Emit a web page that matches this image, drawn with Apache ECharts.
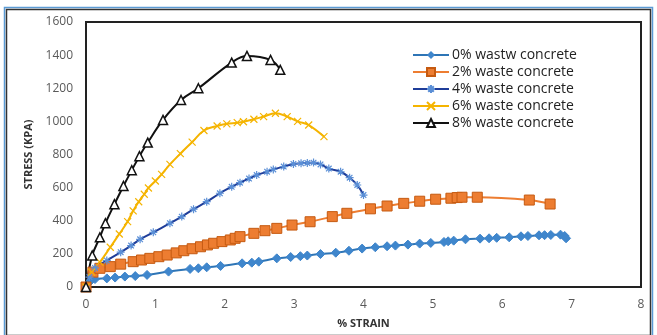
<!DOCTYPE html>
<html>
<head>
<meta charset="utf-8">
<script src="https://cdn.jsdelivr.net/npm/echarts@6/dist/echarts.min.js"></script>
<style>
  html, body { margin: 0; padding: 0; background: #fff; }
  #container { width: 657px; height: 335px; }
</style>
</head>
<body>
<div id="container"></div>
<script>
// stress / strain curves [strain %, stress kPa]
var names = ['0% wastw concrete', '2% waste concrete', '4% waste concrete', '6% waste concrete', '8% waste concrete'];

var waste0 = [[0,0],[0.05,30],[0.13,48],[0.3,52],[0.42,57],[0.56,63],[0.71,66],[0.88,73],[1.19,93],[1.5,109],[1.62,113],
  [1.74,119],[1.94,127],[2.25,143],[2.39,147],[2.49,153],[2.75,173],[2.95,181],[3.09,186],[3.19,190],[3.38,199],[3.6,207],
  [3.79,219],[3.98,232],[4.17,240],[4.34,246],[4.46,250],[4.64,256],[4.81,262],[4.97,266],[5.16,272],[5.22,276],[5.3,280],
  [5.47,288],[5.68,292],[5.81,294],[5.92,297],[6.1,300],[6.27,306],[6.37,308],[6.53,312],[6.61,313],[6.7,314],[6.84,316],
  [6.9,308],[6.92,294]];

var waste2 = [[0,0],[0.1,90],[0.2,113],[0.35,123],[0.5,138],[0.68,153],[0.8,163],[0.92,173],[1.05,183],[1.17,193],[1.3,206],
  [1.41,219],[1.53,231],[1.65,243],[1.75,254],[1.84,264],[1.96,274],[2.08,284],[2.15,294],[2.22,304],[2.42,324],[2.58,340],
  [2.75,354],[2.97,374],[3.23,394],[3.55,425],[3.76,445],[4.1,472],[4.34,489],[4.58,505],[4.81,518],[5.04,530],[5.26,536],
  [5.35,540],[5.42,542],[5.64,542],[6.39,525],[6.69,501]];

var waste4 = [[0,0],[0.05,60],[0.13,115],[0.3,160],[0.5,210],[0.65,250],[0.78,288],[0.97,330],[1.21,385],[1.38,425],[1.55,470],
  [1.74,515],[1.93,566],[2.1,605],[2.22,630],[2.35,655],[2.46,676],[2.61,696],[2.7,710],[2.85,727],[2.99,743],[3.1,747],
  [3.19,749],[3.28,751],[3.38,740],[3.5,715],[3.67,696],[3.8,660],[3.91,616],[4.0,555]];

var waste6 = [[0,0],[0.08,90],[0.2,150],[0.35,240],[0.48,320],[0.6,395],[0.68,460],[0.76,515],[0.84,560],[0.9,598],[1.0,640],
  [1.09,680],[1.21,740],[1.36,805],[1.53,875],[1.7,945],[1.89,972],[2.03,985],[2.18,992],[2.27,998],[2.42,1013],[2.56,1029],
  [2.73,1049],[2.9,1029],[3.05,1000],[3.21,978],[3.43,908]];

var waste8 = [[0,0],[0.09,190],[0.2,300],[0.28,385],[0.41,500],[0.54,610],[0.66,705],[0.77,790],[0.89,872],[1.11,1009],
  [1.37,1129],[1.62,1200],[2.1,1355],[2.32,1395],[2.66,1371],[2.8,1311]];

var xTicks = [0, 1, 2, 3, 4, 5, 6, 7, 8];
var yTicks = [0, 200, 400, 600, 800, 1000, 1200, 1400, 1600];

var starPath = 'path://M5,0L5,10M0,5L10,5M1.5,1.5L8.5,8.5M8.5,1.5L1.5,8.5';
var crossPath = 'path://M0,0L10,10M10,0L0,10';

function mkSeries(name, data, color, symbol, size, itemStyle) {
  return {
    name: name,
    type: 'line',
    data: data,
    smooth: 0.4,
    symbol: symbol,
    symbolSize: size,
    showAllSymbol: true,
    lineStyle: { color: color, width: 2 },
    itemStyle: itemStyle,
    emphasis: { disabled: true }
  };
}

var dom = document.getElementById('container');
var myChart = echarts.init(dom);

var option = {
  backgroundColor: '#fff',
  animation: false,
  textStyle: { fontFamily: 'Open Sans' },
  graphic: [
    { type: 'rect', shape: { x: 4.5, y: 7.5, width: 648, height: 330 }, style: { fill: 'none', stroke: '#5b9bd5', lineWidth: 1.5 } },
    { type: 'rect', shape: { x: 6.5, y: 9.5, width: 644, height: 326 }, style: { fill: 'none', stroke: '#333', lineWidth: 1.5 } }
  ],
  legend: {
    data: names,
    orient: 'vertical',
    left: 407,
    top: 43,
    itemGap: 3,
    itemWidth: 36,
    itemHeight: 10,
    textStyle: { fontSize: 14, color: '#222', fontFamily: 'Open Sans', padding: [0, 0, 0, -2] }
  },
  grid: {
    left: 86, right: 16, top: 22, bottom: 48,
    show: true, borderColor: '#222', borderWidth: 2
  },
  xAxis: {
    type: 'value',
    min: xTicks[0], max: xTicks[xTicks.length - 1], interval: 1,
    name: '% STRAIN',
    nameLocation: 'middle',
    nameGap: 31,
    nameTextStyle: { fontWeight: 'bold', fontSize: 11, color: '#333' },
    axisLine: { show: true, lineStyle: { color: '#222', width: 2 } },
    axisTick: { show: false },
    splitLine: { show: false },
    axisLabel: { color: '#595959', fontSize: 12, margin: 12 }
  },
  yAxis: {
    type: 'value',
    min: yTicks[0], max: yTicks[yTicks.length - 1], interval: 200,
    name: 'STRESS (KPA)',
    nameLocation: 'middle',
    nameGap: 52,
    nameTextStyle: { fontWeight: 'bold', fontSize: 11, color: '#333' },
    axisLine: { show: true, lineStyle: { color: '#222', width: 2 } },
    axisTick: { show: false },
    splitLine: { show: false },
    axisLabel: { color: '#595959', fontSize: 12, margin: 13, formatter: function (v) { return String(v); } }
  },
  series: [
    mkSeries(names[0], waste0, '#2e75b6', 'diamond', 9, { color: '#3f86cc', borderColor: '#3f86cc' }),
    mkSeries(names[1], waste2, '#ed7d31', 'rect', 10, { color: '#ed7d31', borderColor: '#c55a11', borderWidth: 1 }),
    mkSeries(names[2], waste4, '#1f3d99', starPath, 8, { color: 'none', borderColor: '#5b8fd6', borderWidth: 1.2 }),
    mkSeries(names[3], waste6, '#f5b400', crossPath, 7, { color: 'none', borderColor: '#f5b400', borderWidth: 1.2 }),
    mkSeries(names[4], waste8, '#111', 'triangle', 9, { color: '#fff', borderColor: '#111', borderWidth: 1.5 })
  ]
};

myChart.setOption(option);
</script>
</body>
</html>
